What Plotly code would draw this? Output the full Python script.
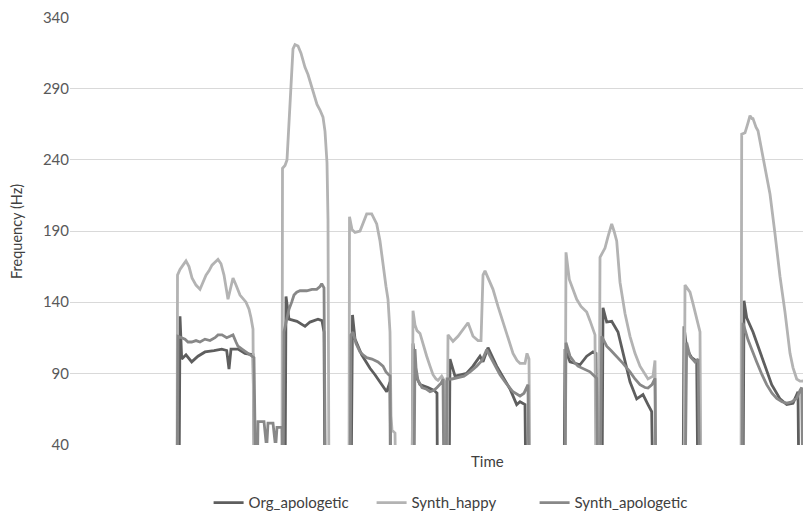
import plotly.graph_objects as go

# Time (arbitrary sample units) and F0 values (Hz) per series; 0 = unvoiced
org_t = [176, 179, 180, 181.7, 186, 191.7, 198, 205, 214, 221.7, 226.7, 229, 231, 238, 245, 253, 255,
         285, 286, 289, 297, 305, 310, 318, 322, 324, 325,
         351, 352.5, 355, 361.7, 366, 370, 375, 380, 386.7, 390, 390.5,
         412, 413, 416, 420, 428, 434, 437, 437.5,
         449, 450, 455, 460, 466.7, 473, 480, 483, 488, 496.7, 503, 510, 516.7, 520, 525, 526,
         564, 565, 570, 575, 580, 586.7, 593, 596, 597, 602, 603, 606.7, 611.7, 618, 623, 630, 636.7, 643, 648, 651.7, 653,
         683, 684, 686.7, 691.7, 696.7, 698,
         743, 744, 746.7, 753, 763, 771.7, 780, 786.7, 793, 798, 799, 806, 807, 811]
org_hz = [0, 0, 130, 100, 103, 98, 102, 105, 106, 107, 106, 93, 107, 107, 104, 103, 0,
          0, 144, 128, 126.5, 123, 126, 128, 127, 119, 0,
          0, 131, 114, 103, 98, 93.5, 89, 84, 77, 84, 0,
          0, 111, 88, 82, 80, 78, 76, 0,
          0, 100, 88, 89, 90, 95, 102, 98, 108, 95, 87, 79, 68, 70, 68, 0,
          0, 107, 98, 97, 96, 102, 105, 104, 0, 0, 136, 126, 126.5, 119, 105, 84, 72, 75, 68, 63, 0,
          0, 123, 107, 101, 98.5, 0,
          0, 141, 129, 119, 98.5, 82, 72, 68, 69, 77, 0, 0, 84, 83]

happy_t = [176, 177, 177.5, 180, 183, 186, 189, 192, 196, 200, 203, 206, 209, 212, 215, 218, 221, 224, 228, 231, 233, 236, 240, 246, 249, 251, 253, 254,
           282, 282.5, 285, 287, 290, 293, 295, 298, 301, 305, 308, 312, 315, 317, 320, 323, 325, 327, 328, 329,
           349, 349.5, 352, 355, 360, 363, 366.7, 371.7, 376.7, 380, 383, 386, 388, 389, 390, 391, 392, 395, 396,
           412, 413, 415, 417, 420, 423, 426.7, 430, 433, 436, 438, 441.7, 445, 446,
           447, 448, 453, 458, 463, 468, 473, 478, 481, 483, 485, 488, 493, 498, 503, 508, 513, 517, 520, 525, 527, 529, 530,
           565, 566, 569.3, 573, 576.7, 581, 586.7, 590, 593, 595, 596, 599, 600, 605, 608, 610, 611.7, 614, 616.7, 620, 625, 630, 635, 640, 645, 648, 653, 655, 656,
           684, 685, 687, 690, 693, 695, 698, 700, 701,
           741, 741.7, 745, 748, 750, 752, 753, 756, 758, 760, 763, 766, 770, 775, 780, 785, 790, 793, 796.7, 800, 803, 806.7, 808, 809]
happy_hz = [0, 0, 159, 163, 166, 169, 165, 157, 152, 149, 154, 159, 162, 166, 168, 170, 167, 159, 142, 151, 157, 152, 145, 140, 135, 129, 121, 0,
            0, 234, 236, 240, 278, 318, 321, 320, 315, 305, 300, 291, 284, 279, 275, 270, 260, 238, 198, 0,
            0, 200, 191, 189, 190, 196, 202, 202, 195, 183, 165, 151, 142, 129, 119, 60, 50, 48, 0,
            0, 134, 124, 120, 118, 110, 102, 95, 89, 86, 85, 88, 84, 0,
            0, 117, 112.5, 116, 121, 125.5, 116, 113, 113, 159, 162, 157, 149, 137, 126, 114, 104, 99, 97, 97, 104, 100, 0,
            0, 175, 156, 149, 142, 137, 133, 127, 121, 117, 0, 0, 171.5, 178, 186, 192, 195, 190, 183, 154, 132, 116, 104, 95, 89, 86, 88, 99, 0,
            0, 152, 150, 147, 139, 133, 125, 119, 0,
            0, 258, 259, 266, 271, 269, 269, 263, 260.5, 253, 242, 230, 216, 188, 158, 133, 104, 94, 86, 84.5, 84.5, 87, 91, 0]

sapol_t = [176, 177, 178, 181, 185, 188, 191.7, 196, 200, 205, 210, 215, 218, 222, 226.7, 230, 233, 236, 238, 242, 246, 251.7, 254, 256,
           257, 258, 264, 266, 267, 268, 273, 275, 276, 277, 282, 283,
           284, 286.7, 289, 291.7, 294, 296.7, 300, 306.7, 312, 316.7, 320, 321.7, 323, 324, 325.5,
           350, 351, 353, 356, 360, 363, 366.7, 372, 378, 383, 386, 390, 391,
           414, 415, 416, 418, 422, 426, 430, 434, 437, 441, 443, 444,
           446, 447, 452, 458, 464, 470, 476.7, 482, 486.7, 490, 495, 500, 506, 513, 520, 524, 528, 529,
           565, 566, 570, 574, 578, 585, 590, 593, 596.7, 598, 600, 601.7, 606.7, 611, 616.7, 623, 630, 635, 640, 645, 648, 652, 655, 656,
           685, 686.7, 690, 695, 698, 700,
           742, 743, 748, 752, 756.7, 762, 766.7, 772, 776.7, 782, 786.7, 792, 796.7, 800, 801.7, 803, 805, 806, 808, 811]
sapol_hz = [0, 0, 116, 115, 114, 112, 112, 113, 112, 114, 113, 115, 117, 117, 115, 116, 117, 112, 109, 107, 105, 102, 101, 0,
            0, 56, 56, 42, 42, 55, 55, 42, 42, 52, 52, 0,
            119, 128, 135, 140, 145, 147, 148, 148, 149, 149, 151, 153, 151, 150, 0,
            0, 117, 119, 111, 105, 103, 101, 100, 98, 95, 91, 88, 0,
            0, 107, 94, 85, 80, 79, 77, 78, 80, 83, 86, 0,
            0, 86, 86, 87, 88, 91, 95, 99, 106.6, 102, 96, 89, 83, 77, 74, 76, 82, 0,
            0, 111.5, 102, 98, 95, 93, 91, 89, 86.5, 0, 0, 116, 109, 106, 102, 97, 91, 86, 82, 80, 79.6, 82, 86.5, 0,
            0, 111.5, 102, 98, 100, 0,
            0, 125.5, 113.5, 106, 98, 89, 82, 76, 72.4, 70, 69, 70, 72.4, 78, 80, 0, 0, 88, 92, 90]

y_ticks = [40, 90, 140, 190, 240, 290, 340]

FONT = "Lato, 'Open Sans', sans-serif"

fig = go.Figure()
fig.add_trace(go.Scatter(x=org_t, y=org_hz, mode="lines", name="Org_apologetic",
                         line=dict(color="#5e5e5e", width=2.8)))
fig.add_trace(go.Scatter(x=happy_t, y=happy_hz, mode="lines", name="Synth_happy",
                         line=dict(color="#b3b3b3", width=2.8)))
fig.add_trace(go.Scatter(x=sapol_t, y=sapol_hz, mode="lines", name="Synth_apologetic",
                         line=dict(color="#888888", width=2.8)))

# page body has an 8px default margin, so the figure is sized/offset to compensate
fig.update_layout(
    width=803, height=507,
    margin=dict(l=62, r=0, t=9, b=70, autoexpand=False),
    paper_bgcolor="white", plot_bgcolor="white",
    font=dict(family=FONT, size=15, color="#595959"),
    showlegend=True,
    legend=dict(orientation="h", x=0.517, xanchor="center", xref="paper",
                y=0.024, yanchor="middle", yref="container",
                entrywidth=118, entrywidthmode="pixels",
                font=dict(size=15, color="#404040")),
    xaxis=dict(range=[70, 811], showticklabels=False, showgrid=False, zeroline=False,
               showline=False, ticks="", automargin=False),
    yaxis=dict(range=[39.6, 340.4], tickvals=y_ticks, showgrid=True, gridcolor="#d9d9d9",
               gridwidth=1, zeroline=False, showline=False, ticks="", automargin=False,
               ticklabeloverflow="allow", tickfont=dict(size=15, color="#595959")),
    annotations=[
        dict(text="Time", xref="paper", yref="paper", x=0.563, y=-0.037,
             xanchor="center", yanchor="middle", showarrow=False,
             font=dict(size=15, color="#404040")),
        dict(text="Frequency (Hz)", xref="paper", yref="paper", x=-0.0729, y=0.5,
             xanchor="center", yanchor="middle", textangle=-90, showarrow=False,
             font=dict(size=14.5, color="#404040")),
    ],
)

fig.write_html("out.html")
